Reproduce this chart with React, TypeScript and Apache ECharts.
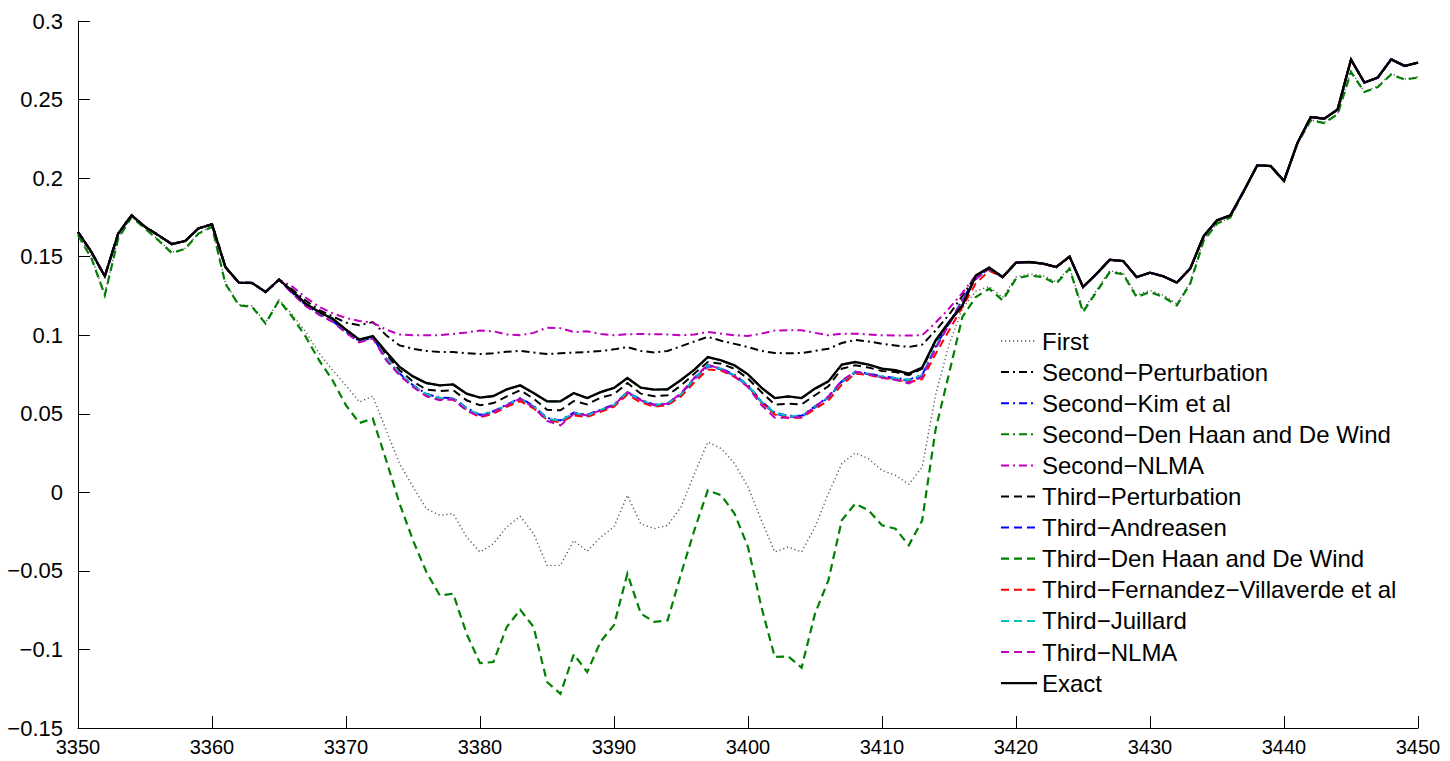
import React, { useEffect, useRef } from "react";
import * as echarts from "echarts";

// time periods 3350..3450
const periods: number[] = [];
for (let t = 3350; t <= 3450; t++) periods.push(t);

const yTicks = { min: -0.15, max: 0.3, step: 0.05 };
const xTicks = { min: 3350, max: 3450, step: 10 };

const exact = [
  0.1657, 0.153, 0.1375, 0.1647, 0.1763, 0.169, 0.1636, 0.158, 0.16, 0.168,
  0.1706, 0.1434, 0.1335, 0.1332, 0.1275, 0.1354, 0.128, 0.12, 0.1148, 0.1105,
  0.1035, 0.0972, 0.0995, 0.0893, 0.0798, 0.0738, 0.0696, 0.0681, 0.0687, 0.0628,
  0.0603, 0.0613, 0.0656, 0.0681, 0.0632, 0.0579, 0.0579, 0.0632, 0.06, 0.0638,
  0.0664, 0.0728, 0.0666, 0.0654, 0.0656, 0.0715, 0.0781, 0.0861, 0.084, 0.0808,
  0.0751, 0.0666, 0.06, 0.0611, 0.06, 0.066, 0.0706, 0.0813, 0.0829, 0.0813,
  0.0787, 0.0777, 0.0755, 0.0794, 0.0967, 0.1084, 0.119, 0.138, 0.143, 0.137,
  0.1462, 0.1466, 0.1456, 0.1434, 0.15, 0.1307, 0.139, 0.148, 0.1472, 0.137,
  0.1398, 0.1375, 0.1335, 0.1424, 0.163, 0.1731, 0.1763, 0.1918, 0.2081, 0.2077,
  0.1982, 0.2223, 0.2389, 0.2378, 0.2436, 0.2754, 0.2608, 0.264, 0.2756, 0.2714,
  0.2735,
];

const first = [
  0.164, 0.15, 0.126, 0.162, 0.1755, 0.1683, 0.1608, 0.1528, 0.1553, 0.165,
  0.1693, 0.1335, 0.1195, 0.1185, 0.108, 0.1225, 0.113, 0.102, 0.0885, 0.0777,
  0.068, 0.0575, 0.0612, 0.0395, 0.0183, 0.0034, -0.0104, -0.0146, -0.0136, -0.0284,
  -0.038, -0.0327, -0.022, -0.0153, -0.0263, -0.0465, -0.0465, -0.0306, -0.0375, -0.0285,
  -0.022, -0.0019, -0.02, -0.0231, -0.021, -0.0094, 0.0119, 0.032, 0.0278, 0.0183,
  0.0034, -0.0178, -0.038, -0.0348, -0.038, -0.022, -0.0008, 0.0183, 0.025, 0.0214,
  0.014, 0.0108, 0.0051, 0.0161, 0.062, 0.094, 0.117, 0.128, 0.131, 0.124,
  0.137, 0.139, 0.138, 0.134, 0.143, 0.116, 0.1285, 0.141, 0.1395, 0.1255,
  0.1285, 0.1255, 0.12, 0.1335, 0.161, 0.171, 0.175, 0.1915, 0.208, 0.2077,
  0.1982, 0.222, 0.237, 0.2355, 0.241, 0.268, 0.255, 0.2585, 0.2665, 0.263,
  0.2645,
];

const thirdDenHaan = [
  0.1636, 0.149, 0.1254, 0.1615, 0.1752, 0.168, 0.1604, 0.1523, 0.155, 0.1647,
  0.169, 0.1328, 0.119, 0.118, 0.1074, 0.1222, 0.1116, 0.0989, 0.084, 0.0713,
  0.0554, 0.0441, 0.0469, 0.0204, -0.0072, -0.0306, -0.0507, -0.0656, -0.0645, -0.09,
  -0.1087, -0.108, -0.0857, -0.0747, -0.0857, -0.1207, -0.1282, -0.1031, -0.1144, -0.095,
  -0.0845, -0.0518, -0.0772, -0.0825, -0.0815, -0.052, -0.024, 0.0013, -0.0019, -0.0136,
  -0.0348, -0.073, -0.1048, -0.1044, -0.1116, -0.0772, -0.056, -0.0178, -0.0072, -0.0115,
  -0.021, -0.0231, -0.0337, -0.0178, 0.04, 0.0755, 0.1116, 0.1243, 0.1296, 0.1222,
  0.136, 0.138, 0.137, 0.1328, 0.1424, 0.1148, 0.1275, 0.1402, 0.1388, 0.1243,
  0.1275, 0.1243, 0.119, 0.1328, 0.16, 0.171, 0.175, 0.1915, 0.208, 0.2077,
  0.1982, 0.222, 0.2368, 0.235, 0.2406, 0.2675, 0.2548, 0.258, 0.266, 0.2627,
  0.264,
];

// Values for 3366..3418; outside this span these series coincide with the exact solution
const MID_START = 3366;
const secondPerturbationMid = [
  0.129, 0.122, 0.116, 0.112, 0.108, 0.1063, 0.1084, 0.1, 0.0935, 0.0914,
  0.09, 0.0893, 0.0893, 0.0885, 0.088, 0.0885, 0.0895, 0.09, 0.089, 0.088,
  0.0885, 0.089, 0.0893, 0.09, 0.091, 0.0925, 0.09, 0.089, 0.09, 0.093,
  0.096, 0.099, 0.0965, 0.0945, 0.0925, 0.09, 0.0887, 0.0885, 0.0887, 0.09,
  0.0914, 0.095, 0.097, 0.096, 0.0946, 0.0935, 0.0925, 0.094, 0.103, 0.113,
  0.125, 0.138, 0.143,
];
const secondNlmaMid = [
  0.131, 0.124, 0.118, 0.114, 0.111, 0.109, 0.108, 0.1035, 0.1005, 0.1,
  0.1, 0.1, 0.1008, 0.1018, 0.103, 0.1025, 0.1005, 0.1, 0.1015, 0.1048,
  0.1045, 0.102, 0.1025, 0.1008, 0.1, 0.1006, 0.1008, 0.1006, 0.1005, 0.1,
  0.1005, 0.102, 0.101, 0.1, 0.0995, 0.101, 0.103, 0.1031, 0.1031, 0.1015,
  0.1, 0.101, 0.101, 0.1005, 0.1, 0.0998, 0.0998, 0.1, 0.108, 0.117,
  0.127, 0.138, 0.143,
];
const secondKimMid = [
  0.127, 0.1192, 0.1136, 0.1091, 0.1022, 0.0962, 0.0986, 0.0852, 0.0757, 0.0682,
  0.0627, 0.0602, 0.06, 0.0537, 0.0493, 0.0517, 0.0558, 0.06, 0.055, 0.0473,
  0.0458, 0.0508, 0.0493, 0.0527, 0.0558, 0.064, 0.059, 0.0558, 0.0567, 0.0627,
  0.0726, 0.081, 0.0789, 0.0747, 0.0683, 0.058, 0.0507, 0.0487, 0.0487, 0.0547,
  0.0609, 0.0707, 0.0768, 0.0757, 0.0738, 0.0728, 0.0717, 0.0747, 0.0927, 0.1076,
  0.1227, 0.1362, 0.1426,
];
// hidden beneath the exact solution
const secondDenHaanMid = [
  0.128, 0.12, 0.1147, 0.1104, 0.1034, 0.0971, 0.0994, 0.0892, 0.0797, 0.0737,
  0.0695, 0.068, 0.0686, 0.0627, 0.0602, 0.0612, 0.0655, 0.068, 0.0631, 0.0578,
  0.0578, 0.0631, 0.0599, 0.0637, 0.0663, 0.0727, 0.0665, 0.0653, 0.0655, 0.0714,
  0.078, 0.086, 0.0839, 0.0807, 0.075, 0.0665, 0.0599, 0.061, 0.0599, 0.0659,
  0.0705, 0.0812, 0.0828, 0.0812, 0.0786, 0.0776, 0.0754, 0.0793, 0.0966, 0.1083,
  0.119, 0.138, 0.143,
];
const thirdPerturbationMid = [
  0.128, 0.12, 0.1148, 0.1105, 0.1035, 0.0972, 0.099, 0.088, 0.0777, 0.0705,
  0.0654, 0.0645, 0.065, 0.0586, 0.0554, 0.0568, 0.0611, 0.065, 0.0596, 0.0526,
  0.0522, 0.0581, 0.056, 0.0603, 0.0624, 0.0696, 0.0628, 0.0611, 0.0618, 0.068,
  0.0756, 0.0829, 0.0818, 0.0786, 0.0724, 0.0638, 0.0558, 0.0564, 0.056, 0.0618,
  0.0675, 0.0787, 0.0808, 0.0794, 0.0772, 0.0766, 0.0745, 0.0787, 0.096, 0.108,
  0.119, 0.138, 0.143,
];
const thirdAndreasenMid = [
  0.1268, 0.119, 0.1133, 0.1088, 0.1018, 0.0958, 0.0983, 0.0848, 0.0752, 0.0677,
  0.0621, 0.0597, 0.0595, 0.0531, 0.0486, 0.0511, 0.0552, 0.0594, 0.0544, 0.0466,
  0.045, 0.0501, 0.0487, 0.0521, 0.0552, 0.0634, 0.0584, 0.0552, 0.0561, 0.0621,
  0.072, 0.0803, 0.0783, 0.0741, 0.0677, 0.0574, 0.05, 0.0481, 0.0481, 0.0541,
  0.0603, 0.0701, 0.0762, 0.0751, 0.0732, 0.0722, 0.071, 0.074, 0.092, 0.107,
  0.1222, 0.1358, 0.1424,
];
const thirdFernandezMid = [
  0.127, 0.119, 0.1135, 0.109, 0.102, 0.096, 0.0985, 0.085, 0.0752, 0.0675,
  0.062, 0.0595, 0.059, 0.0525, 0.0478, 0.05, 0.0545, 0.058, 0.0535, 0.0462,
  0.0445, 0.049, 0.048, 0.0512, 0.0545, 0.0622, 0.0572, 0.0545, 0.0555, 0.061,
  0.07, 0.0782, 0.0775, 0.0735, 0.0672, 0.0572, 0.0495, 0.0475, 0.0475, 0.053,
  0.0585, 0.0685, 0.0755, 0.0748, 0.0728, 0.0718, 0.0702, 0.072, 0.088, 0.103,
  0.118, 0.133, 0.141,
];
const thirdJuillardMid = [
  0.127, 0.119, 0.1135, 0.109, 0.102, 0.096, 0.0985, 0.085, 0.0755, 0.068,
  0.0625, 0.06, 0.0598, 0.0535, 0.049, 0.0515, 0.0556, 0.0598, 0.0548, 0.047,
  0.0455, 0.0505, 0.049, 0.0525, 0.0556, 0.0638, 0.0588, 0.0556, 0.0565, 0.0625,
  0.0724, 0.0808, 0.0787, 0.0745, 0.0681, 0.0578, 0.0505, 0.0485, 0.0485, 0.0545,
  0.0607, 0.0705, 0.0766, 0.0755, 0.0736, 0.0726, 0.0715, 0.0745, 0.0925, 0.1074,
  0.1225, 0.136, 0.1425,
];
const thirdNlmaMid = [
  0.1265, 0.1185, 0.113, 0.1085, 0.1015, 0.0955, 0.098, 0.084, 0.0745, 0.067,
  0.0611, 0.0586, 0.0592, 0.052, 0.048, 0.051, 0.0554, 0.0596, 0.054, 0.0455,
  0.0426, 0.05, 0.049, 0.0522, 0.0554, 0.0638, 0.0586, 0.0554, 0.0565, 0.063,
  0.073, 0.0812, 0.0785, 0.074, 0.067, 0.0555, 0.0475, 0.0475, 0.048, 0.0545,
  0.061, 0.0712, 0.0768, 0.0752, 0.073, 0.0716, 0.0693, 0.0735, 0.0915, 0.1068,
  0.122, 0.136, 0.1425,
];

function withMid(mid: number[]): number[] {
  const out = exact.slice();
  mid.forEach((v, i) => {
    out[MID_START - periods[0] + i] = v;
  });
  return out;
}

const FONT = "'Liberation Sans', Arial, Helvetica, sans-serif";
const DASH = [8, 5];
const DASHDOT = [8, 4, 2, 4];
const DOT = [1.2, 2.8];

type Spec = { name: string; data: number[]; color: string; width: number; dash: number[] | "solid" };

const specs: Spec[] = [
  { name: "First", data: first, color: "#555555", width: 1.4, dash: DOT },
  { name: "Second\u2212Perturbation", data: withMid(secondPerturbationMid), color: "#000000", width: 2, dash: DASHDOT },
  { name: "Second\u2212Kim et al", data: withMid(secondKimMid), color: "#0000ff", width: 2, dash: DASHDOT },
  { name: "Second\u2212Den Haan and De Wind", data: withMid(secondDenHaanMid), color: "#008000", width: 2, dash: DASHDOT },
  { name: "Second\u2212NLMA", data: withMid(secondNlmaMid), color: "#bf00bf", width: 2, dash: DASHDOT },
  { name: "Third\u2212Perturbation", data: withMid(thirdPerturbationMid), color: "#000000", width: 2, dash: DASH },
  { name: "Third\u2212Andreasen", data: withMid(thirdAndreasenMid), color: "#0000ff", width: 2, dash: DASH },
  { name: "Third\u2212Den Haan and De Wind", data: thirdDenHaan, color: "#008000", width: 2.2, dash: DASH },
  { name: "Third\u2212Fernandez\u2212Villaverde et al", data: withMid(thirdFernandezMid), color: "#ff0000", width: 2, dash: DASH },
  { name: "Third\u2212Juillard", data: withMid(thirdJuillardMid), color: "#00bfbf", width: 2, dash: DASH },
  { name: "Third\u2212NLMA", data: withMid(thirdNlmaMid), color: "#bf00bf", width: 2, dash: DASH },
  { name: "Exact", data: exact, color: "#000000", width: 2.4, dash: "solid" },
];

function fmtY(v: number): string {
  const r = Math.round(v * 100) / 100;
  if (Math.abs(r) < 1e-9) return "0";
  const s = String(r);
  return s.replace("-", "\u2212");
}

export default function App() {
  const ref = useRef<HTMLDivElement>(null);

  useEffect(() => {
    if (!ref.current) return;
    const chart = echarts.init(ref.current, undefined, { renderer: "svg" });

    const legendX0 = 1001;
    const legendX1 = 1037;
    const legendTextX = 1042;
    const legendY0 = 341;
    const legendStep = 31.1;
    const legendGraphics: any[] = [];
    specs.forEach((s, i) => {
      const y = legendY0 + i * legendStep;
      legendGraphics.push({
        type: "line",
        silent: true,
        shape: { x1: legendX0, y1: y, x2: legendX1, y2: y },
        style: {
          stroke: s.color,
          lineWidth: s.dash === "solid" ? 2.4 : s.width,
          lineDash: s.dash === "solid" ? null : s.dash,
        },
      });
      legendGraphics.push({
        type: "text",
        silent: true,
        x: legendTextX,
        y: y,
        style: {
          text: s.name,
          fontSize: 24,
          fontFamily: FONT,
          fill: "#000",
          align: "left",
          verticalAlign: "middle",
        },
      });
    });

    chart.setOption({
      animation: false,
      backgroundColor: "#ffffff",
      grid: { left: 78, right: 32, top: 21, bottom: 33, containLabel: false },
      xAxis: {
        type: "value",
        min: xTicks.min,
        max: xTicks.max,
        interval: xTicks.step,
        axisLine: { show: true, onZero: false, lineStyle: { color: "#000", width: 1 } },
        axisTick: { show: true, inside: true, length: 12, lineStyle: { color: "#000", width: 1 } },
        axisLabel: {
          color: "#000",
          fontSize: 20,
          fontFamily: FONT,
          margin: 9,
          formatter: (v: number) => String(Math.round(v)),
        },
        splitLine: { show: false },
      },
      yAxis: {
        type: "value",
        min: yTicks.min,
        max: yTicks.max,
        interval: yTicks.step,
        axisLine: { show: true, onZero: false, lineStyle: { color: "#000", width: 1 } },
        axisTick: { show: true, inside: true, length: 12, lineStyle: { color: "#000", width: 1 } },
        axisLabel: { color: "#000", fontSize: 22, fontFamily: FONT, margin: 15, formatter: fmtY },
        splitLine: { show: false },
      },
      series: specs.map((s) => ({
        name: s.name,
        type: "line",
        data: s.data.map((v, i) => [periods[i], v]),
        showSymbol: false,
        symbol: "none",
        smooth: false,
        silent: true,
        lineStyle: {
          color: s.color,
          width: s.width,
          type: s.dash,
          cap: "butt",
          join: "miter",
        },
      })),
      graphic: legendGraphics,
    });

    return () => {
      chart.dispose();
    };
  }, []);

  return (
    <div
      ref={ref}
      style={{ position: "fixed", left: 0, top: 0, width: 1450, height: 761, background: "#fff" }}
    />
  );
}
